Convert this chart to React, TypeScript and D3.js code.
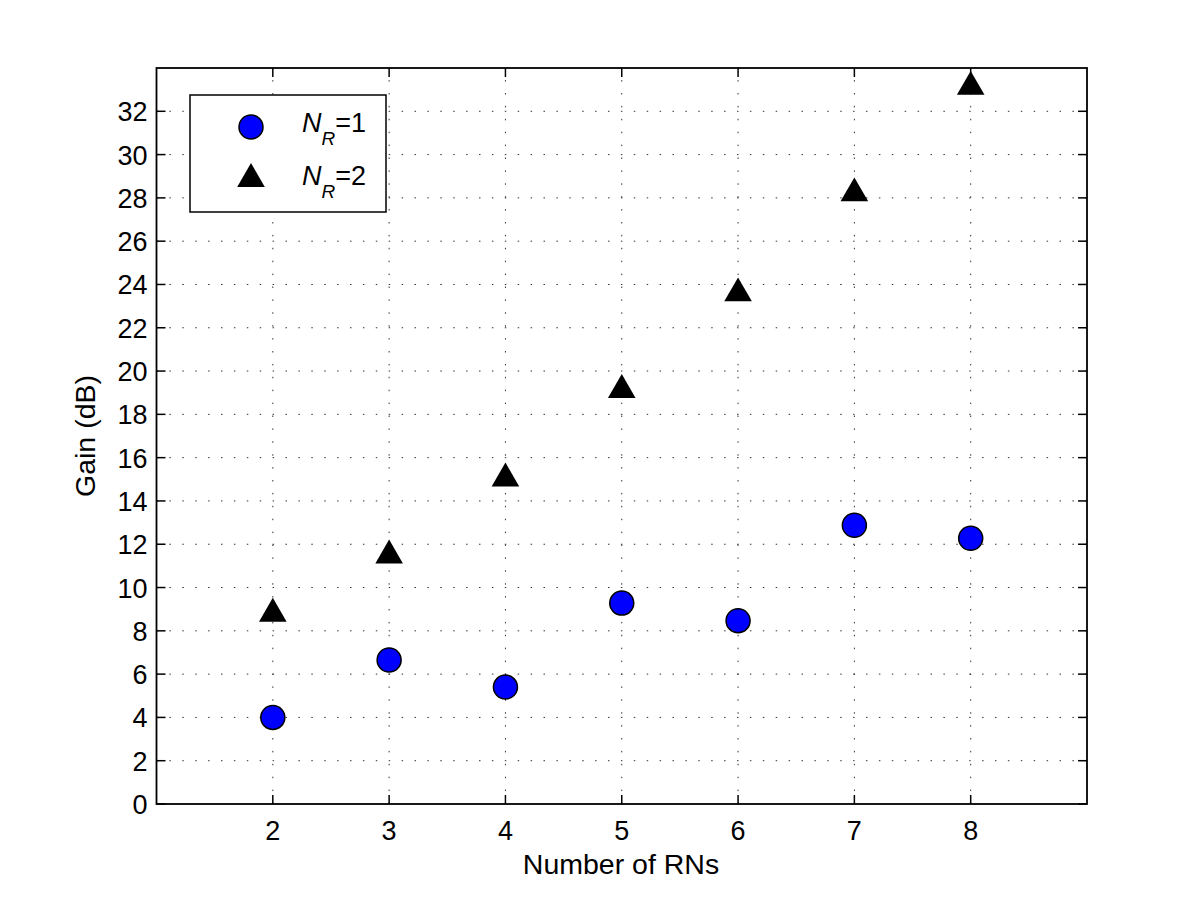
import { useEffect, useRef } from "react";
import * as d3 from "d3";

// values
const rnCounts = [2, 3, 4, 5, 6, 7, 8];
const gainNr1 = [4.0, 6.65, 5.4, 9.28, 8.47, 12.88, 12.28];
const gainNr2 = [8.88, 11.57, 15.13, 19.22, 23.68, 28.3, 33.22];
const xTicks = [2, 3, 4, 5, 6, 7, 8];
const yTicks = d3.range(0, 34, 2);
const legendLabels = ["1", "2"];

const width = 1200;
const height = 907;
const margin = { top: 68, right: 113, bottom: 103, left: 156.5 };
const font = "'Liberation Sans', Arial, Helvetica, sans-serif";

const drawChart = (node: SVGSVGElement) => {
    const svg = d3.select(node);
    svg.selectAll("*").remove();

    const x = d3.scaleLinear().domain([1, 9]).range([margin.left, width - margin.right]);
    const y = d3.scaleLinear().domain([0, 34]).range([height - margin.bottom, margin.top]);
    const [x0, x1] = x.range();
    const [y0, y1] = y.range();

    svg.append("rect").attr("width", width).attr("height", height).attr("fill", "white");

    // dotted grid
    const grid = svg.append("g")
        .attr("stroke", "#333")
        .attr("stroke-width", 1)
        .attr("stroke-dasharray", "1.5,11.4");
    grid.selectAll("line.v")
        .data(xTicks)
        .join("line")
        .attr("class", "v")
        .attr("x1", d => x(d)).attr("x2", d => x(d))
        .attr("y1", y0).attr("y2", y1);
    grid.selectAll("line.h")
        .data(yTicks.filter(d => d > 0))
        .join("line")
        .attr("class", "h")
        .attr("x1", x0).attr("x2", x1)
        .attr("y1", d => y(d)).attr("y2", d => y(d));

    // ticks on all four sides, pointing inward
    const tickLen = 9;
    const ticks = svg.append("g").attr("stroke", "black").attr("stroke-width", 1.5);
    xTicks.forEach(t => {
        ticks.append("line").attr("x1", x(t)).attr("x2", x(t)).attr("y1", y0).attr("y2", y0 - tickLen);
        ticks.append("line").attr("x1", x(t)).attr("x2", x(t)).attr("y1", y1).attr("y2", y1 + tickLen);
    });
    yTicks.forEach(t => {
        ticks.append("line").attr("x1", x0).attr("x2", x0 + tickLen).attr("y1", y(t)).attr("y2", y(t));
        ticks.append("line").attr("x1", x1).attr("x2", x1 - tickLen).attr("y1", y(t)).attr("y2", y(t));
    });

    // frame
    svg.append("rect")
        .attr("x", x0).attr("y", y1)
        .attr("width", x1 - x0).attr("height", y0 - y1)
        .attr("fill", "none").attr("stroke", "black").attr("stroke-width", 1.8);

    // tick labels
    const labels = svg.append("g").attr("font-family", font).attr("font-size", 27).attr("fill", "black");
    labels.selectAll("text.x")
        .data(xTicks)
        .join("text")
        .attr("class", "x")
        .attr("x", d => x(d))
        .attr("y", 840)
        .attr("text-anchor", "middle")
        .text(d => d);
    labels.selectAll("text.y")
        .data(yTicks)
        .join("text")
        .attr("class", "y")
        .attr("x", x0 - 9)
        .attr("y", d => y(d) + 10)
        .attr("text-anchor", "end")
        .text(d => d);

    // axis titles
    svg.append("text")
        .attr("font-family", font).attr("font-size", 28.5)
        .attr("x", 621).attr("y", 874)
        .attr("text-anchor", "middle")
        .text("Number of RNs");
    svg.append("text")
        .attr("font-family", font).attr("font-size", 28.5)
        .attr("transform", "translate(95,436) rotate(-90)")
        .attr("text-anchor", "middle")
        .text("Gain (dB)");

    // series
    const tri = d3.symbol().type(d3.symbolTriangle).size(330);
    svg.append("g")
        .selectAll("path")
        .data(rnCounts.map((c, i) => [c, gainNr2[i]]))
        .join("path")
        .attr("d", tri)
        .attr("transform", d => `translate(${x(d[0])},${y(d[1]) + 2})`)
        .attr("fill", "black");
    svg.append("g")
        .selectAll("circle")
        .data(rnCounts.map((c, i) => [c, gainNr1[i]]))
        .join("circle")
        .attr("cx", d => x(d[0]))
        .attr("cy", d => y(d[1]))
        .attr("r", 12)
        .attr("fill", "#0000ff")
        .attr("stroke", "black")
        .attr("stroke-width", 1.5);

    // legend
    const legend = svg.append("g");
    legend.append("rect")
        .attr("x", 190).attr("y", 95)
        .attr("width", 196).attr("height", 117)
        .attr("fill", "white").attr("stroke", "black").attr("stroke-width", 1.5);
    legend.append("circle")
        .attr("cx", 251).attr("cy", 127)
        .attr("r", 12)
        .attr("fill", "#0000ff").attr("stroke", "black").attr("stroke-width", 1.5);
    legend.append("path")
        .attr("d", tri)
        .attr("transform", "translate(251,179)")
        .attr("fill", "black");
    legendLabels.forEach((lab, i) => {
        const t = legend.append("text")
            .attr("font-family", font).attr("font-size", 27)
            .attr("x", 302).attr("y", 132 + i * 53);
        t.append("tspan").attr("font-style", "italic").text("N");
        t.append("tspan").attr("font-style", "italic").attr("font-size", 19).attr("dy", 13).text("R");
        t.append("tspan").attr("dy", -13).text("=" + lab);
    });
};

export default function App() {
    const ref = useRef<SVGSVGElement>(null);
    useEffect(() => {
        if (ref.current) drawChart(ref.current);
    }, []);
    return (
        <svg
            ref={ref}
            width={width}
            height={height}
            style={{ position: "absolute", left: 0, top: 0, display: "block" }}
        />
    );
}
